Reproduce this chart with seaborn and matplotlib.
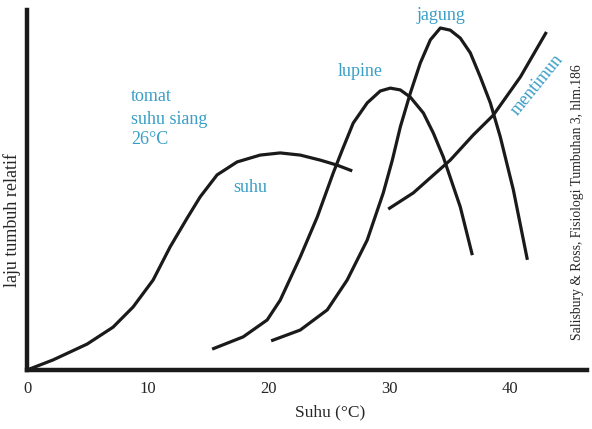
import numpy as np
import pandas as pd
import seaborn as sns
import matplotlib.pyplot as plt

# growth curves (temperature in °C, relative growth 0-100)
tomat_x = [0, 2.16, 4.98, 7.13, 8.79, 10.45, 11.86, 13.27, 14.35, 15.75, 17.41,
           19.32, 20.98, 22.64, 24.30, 25.70, 26.95]
tomat_y = [0, 2.8, 7.2, 11.9, 17.5, 25.0, 34.2, 42.2, 48.1, 54.2, 57.8,
           59.7, 60.3, 59.7, 58.3, 56.9, 55.3]

lupine_x = [15.34, 17.91, 19.90, 20.98, 22.64, 24.05, 25.37, 26.12, 27.03, 28.19,
            29.27, 30.10, 30.93, 31.76, 32.84, 33.67, 34.49, 35.90, 36.90]
lupine_y = [5.8, 9.2, 13.9, 19.4, 31.4, 42.5, 54.7, 61.1, 68.6, 74.2,
            77.5, 78.3, 77.8, 75.8, 71.4, 65.8, 59.2, 45.3, 31.9]

jagung_x = [20.23, 22.64, 24.88, 26.53, 28.19, 29.52, 30.27, 30.93, 31.76, 32.59,
            33.42, 34.25, 35.07, 35.90, 36.73, 37.56, 38.39, 39.22, 40.30, 41.46]
jagung_y = [8.1, 11.1, 16.7, 25.0, 36.1, 49.2, 58.3, 67.5, 76.9, 85.3,
            91.7, 95.0, 94.4, 92.2, 88.1, 81.4, 74.2, 64.7, 50.0, 30.6]

mentimun_x = [29.93, 32.01, 35.07, 36.98, 38.64, 40.88, 43.04]
mentimun_y = [44.7, 49.2, 58.3, 65.3, 70.8, 81.4, 93.9]

tick_pos = [0, 5, 10, 15, 20, 25, 30, 35, 40]
tick_labels = ["0", "", "10", "", "20", "", "30", "", "40"]

frames = []
for name, xs, ys in [("tomat", tomat_x, tomat_y), ("lupine", lupine_x, lupine_y),
                     ("jagung", jagung_x, jagung_y), ("mentimun", mentimun_x, mentimun_y)]:
    frames.append(pd.DataFrame({"suhu": xs, "laju": ys, "tanaman": name}))
df = pd.concat(frames, ignore_index=True)

sns.set_style("white")
plt.rcParams['font.family'] = ['Liberation Serif', 'DejaVu Serif']

blue = '#3a9ec6'

fig = plt.figure(figsize=(5.92, 4.29), dpi=100)
ax = fig.add_axes([27 / 592, 59 / 429, 560 / 592, 360 / 429])

for name in ["tomat", "lupine", "jagung", "mentimun"]:
    sub = df[df.tanaman == name]
    sns.lineplot(data=sub, x="suhu", y="laju", ax=ax, sort=False,
                 color='#1a1a1a', linewidth=2.3, legend=False,
                 solid_joinstyle='round', solid_capstyle='butt')

ax.set_xlim(0, 46.4)
ax.set_ylim(0, 100)
sns.despine(ax=ax)
for side in ['left', 'bottom']:
    ax.spines[side].set_linewidth(3.2)
    ax.spines[side].set_color('#1a1a1a')

ax.set_xticks(tick_pos)
ax.set_xticklabels(tick_labels, fontsize=12)
ax.tick_params(axis='x', direction='in', length=6, width=2.6, color='#1a1a1a', pad=8)
ax.set_yticks([])
ax.set_xlabel("Suhu (°C)", fontsize=12.5)
ax.set_ylabel("laju tumbuh relatif", fontsize=13)
ax.xaxis.set_label_coords(0.541, -0.095)
ax.yaxis.set_label_coords(-0.011, 0.417)

ax.text(8.62, 76.1, "tomat", color=blue, fontsize=13, ha='left', va='center')
ax.text(8.62, 69.7, "suhu siang", color=blue, fontsize=13, ha='left', va='center')
ax.text(8.62, 63.9, "26°C", color=blue, fontsize=13, ha='left', va='center')
ax.text(17.08, 50.6, "suhu", color=blue, fontsize=13, ha='left', va='center')
ax.text(25.7, 82.8, "lupine", color=blue, fontsize=13, ha='left', va='center')
ax.text(32.25, 98.6, "jagung", color=blue, fontsize=13, ha='left', va='center')
ax.text(42.3, 79.2, "mentimun", color=blue, fontsize=13, ha='center', va='center',
        rotation=51)
ax.text(45.6, 46.7, "Salisbury & Ross, Fisiologi Tumbuhan 3, hlm.186", fontsize=9.8,
        rotation=90, ha='center', va='center')

plt.savefig("out.png", dpi=100)
